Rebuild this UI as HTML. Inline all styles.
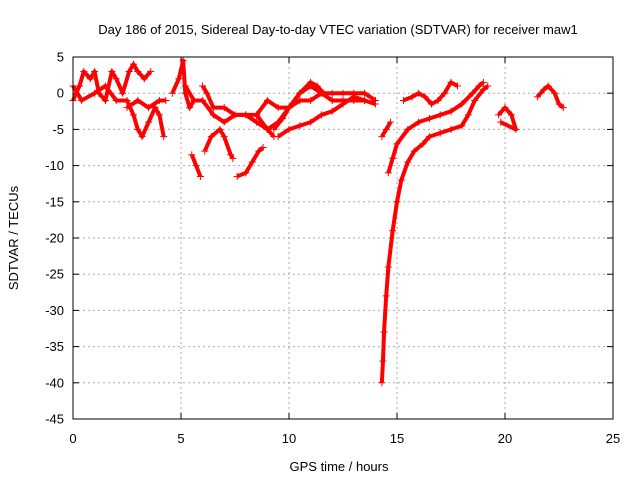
<!DOCTYPE html>
<html><head><meta charset="utf-8"><style>
body{margin:0;background:#fff;}
svg{display:block;font-family:"Liberation Sans",sans-serif;}
</style></head><body>
<svg id="chart" width="640" height="480">
<rect x="0" y="0" width="640" height="480" fill="#fff"/>
<text x="338" y="34" text-anchor="middle" font-size="13">Day 186 of 2015, Sidereal Day-to-day VTEC variation (SDTVAR) for receiver maw1</text>
<text x="339" y="471" text-anchor="middle" font-size="13">GPS time / hours</text>
<text x="18" y="238" text-anchor="middle" font-size="13" transform="rotate(-90 18 238)">SDTVAR / TECUs</text>
<g id="grid"></g><g id="ticks"></g><g id="series"></g>
<rect x="73" y="57" width="540" height="362" fill="none" stroke="#000" stroke-width="1"/>
</svg>
<script>
const xTicks=[0,5,10,15,20,25];
const yTicks=[5,0,-5,-10,-15,-20,-25,-30,-35,-40,-45];
const trackA=[[0,-1],[0.3,1],[0.5,3],[0.8,2],[1,3],[1.2,0],[1.5,-1],[1.8,3],[2,2],[2.3,0],[2.6,3],[2.8,4],[3,3],[3.3,2],[3.6,3]];
const trackB=[[0,1],[0.4,-1],[1,0],[1.5,1],[2,-1],[2.5,-1],[2.8,-3],[3,-5],[3.2,-6],[3.5,-4],[3.8,-2],[4,-3],[4.2,-6]];
const trackC=[[2.5,-2],[3,-1],[3.5,-2],[4,-1],[4.3,-1]];
const trackD=[[4.6,0],[4.9,2],[5.1,4.5],[5.2,0],[5.4,-2],[5.6,-1]];
const trackE=[[5.5,-8.5],[5.7,-10],[5.9,-11.5]];
const trackF=[[5.2,1],[5.6,-1],[6,-1],[6.5,-3],[7,-4],[7.5,-3],[8,-3],[8.5,-4],[9,-5],[9.3,-6]];
const trackG=[[6.1,-8],[6.4,-6],[6.8,-5],[7,-6],[7.3,-8.5],[7.4,-9]];
const trackH=[[6,1],[6.2,0],[6.5,-2],[7,-2],[7.5,-3],[8,-3],[8.5,-3],[9,-1],[9.5,-2],[10,-2],[10.5,0],[11,1],[11.5,0],[12,-1],[12.5,-1],[13,-1],[13.5,-1],[14,-1.5]];
const trackI=[[7.6,-11.5],[8,-11],[8.3,-9.5],[8.6,-8],[8.8,-7.5]];
const trackJ=[[8.5,-3],[9,-5],[9.5,-4],[10,-2],[10.5,-1],[11,-1],[11.5,0],[12,0],[12.5,0],[13,0],[13.5,0],[14,-1]];
const trackK=[[9.3,-5],[9.7,-3.5],[10,-2],[10.5,0],[11,1.5],[11.3,1],[11.6,0]];
const trackL=[[9.5,-6],[10,-5],[10.5,-4.5],[11,-4],[11.5,-3],[12,-2.5],[12.5,-1.5],[13,-0.5],[13.5,-1]];
const trackM=[[14.3,-40],[14.35,-37],[14.4,-33],[14.5,-28],[14.6,-24],[14.8,-19],[15,-15],[15.2,-12],[15.5,-9.5],[15.8,-8],[16.2,-7],[16.5,-6],[17,-5.5],[17.5,-5],[18,-4.5],[18.3,-3],[18.6,-1],[19,0.5],[19.2,1]];
const trackN=[[14.6,-11],[14.8,-9],[15,-7],[15.5,-5],[16,-4],[16.5,-3.5],[17,-3],[17.5,-2.5],[18,-1.5],[18.5,0],[18.8,1],[19,1.5]];
const trackO=[[15.3,-1],[15.7,-0.5],[16,0],[16.3,-0.5],[16.6,-1.5],[16.9,-1],[17.2,0],[17.5,1.5],[17.8,1]];
const trackO2=[[14.3,-6],[14.5,-5],[14.7,-4]];
const trackP=[[19.7,-3],[20,-2],[20.3,-3],[20.5,-5],[19.8,-4]];
const trackQ=[[21.5,-0.5],[21.8,0.5],[22,1],[22.3,0],[22.5,-1.5],[22.7,-2]];
const tracks=[trackA,trackB,trackC,trackD,trackE,trackF,trackG,trackH,trackI,trackJ,trackK,trackL,trackM,trackN,trackO,trackO2,trackP,trackQ];
const NS="http://www.w3.org/2000/svg";
const X=v=>73+v*(540/25);
const Y=v=>57+(5-v)*(362/50);
function mk(t,a,p){const e=document.createElementNS(NS,t);for(const k in a)e.setAttribute(k,a[k]);p.appendChild(e);return e;}
const grid=document.getElementById('grid'),ticks=document.getElementById('ticks'),ser=document.getElementById('series');
xTicks.forEach(t=>{
 if(t>0&&t<25){const g=mk('line',{x1:X(t),x2:X(t),y1:57,y2:419,stroke:'#aaa','stroke-dasharray':'2,3'},grid);
 
 }
 mk('line',{x1:X(t),x2:X(t),y1:419,y2:413,stroke:'#000'},ticks);
 mk('line',{x1:X(t),x2:X(t),y1:57,y2:63,stroke:'#000'},ticks);
 const l=mk('text',{x:X(t),y:443,'text-anchor':'middle','font-size':13},ticks);l.textContent=t;
 
 
});
yTicks.forEach(t=>{
 if(t<5&&t>-45){const g=mk('line',{x1:73,x2:613,y1:Y(t),y2:Y(t),stroke:'#aaa','stroke-dasharray':'2,3'},grid);
 
 }
 mk('line',{x1:73,x2:79,y1:Y(t),y2:Y(t),stroke:'#000'},ticks);
 mk('line',{x1:613,x2:607,y1:Y(t),y2:Y(t),stroke:'#000'},ticks);
 const l=mk('text',{x:64,y:Y(t)+4.5,'text-anchor':'end','font-size':13},ticks);l.textContent=t;
 
 
});
tracks.forEach(tr=>{
 const g=mk('g',{},ser);
 
 
 mk('polyline',{points:tr.map(p=>X(p[0])+','+Y(p[1])).join(' '),fill:'none',stroke:'#f00','stroke-width':4,'stroke-linejoin':'round'},g);
 tr.forEach(p=>{const cx=X(p[0]),cy=Y(p[1]);
  mk('path',{d:`M${cx-3.5},${cy}h7M${cx},${cy-3.5}v7`,stroke:'#f00','stroke-width':1},g);});
});
</script>
</body></html>
